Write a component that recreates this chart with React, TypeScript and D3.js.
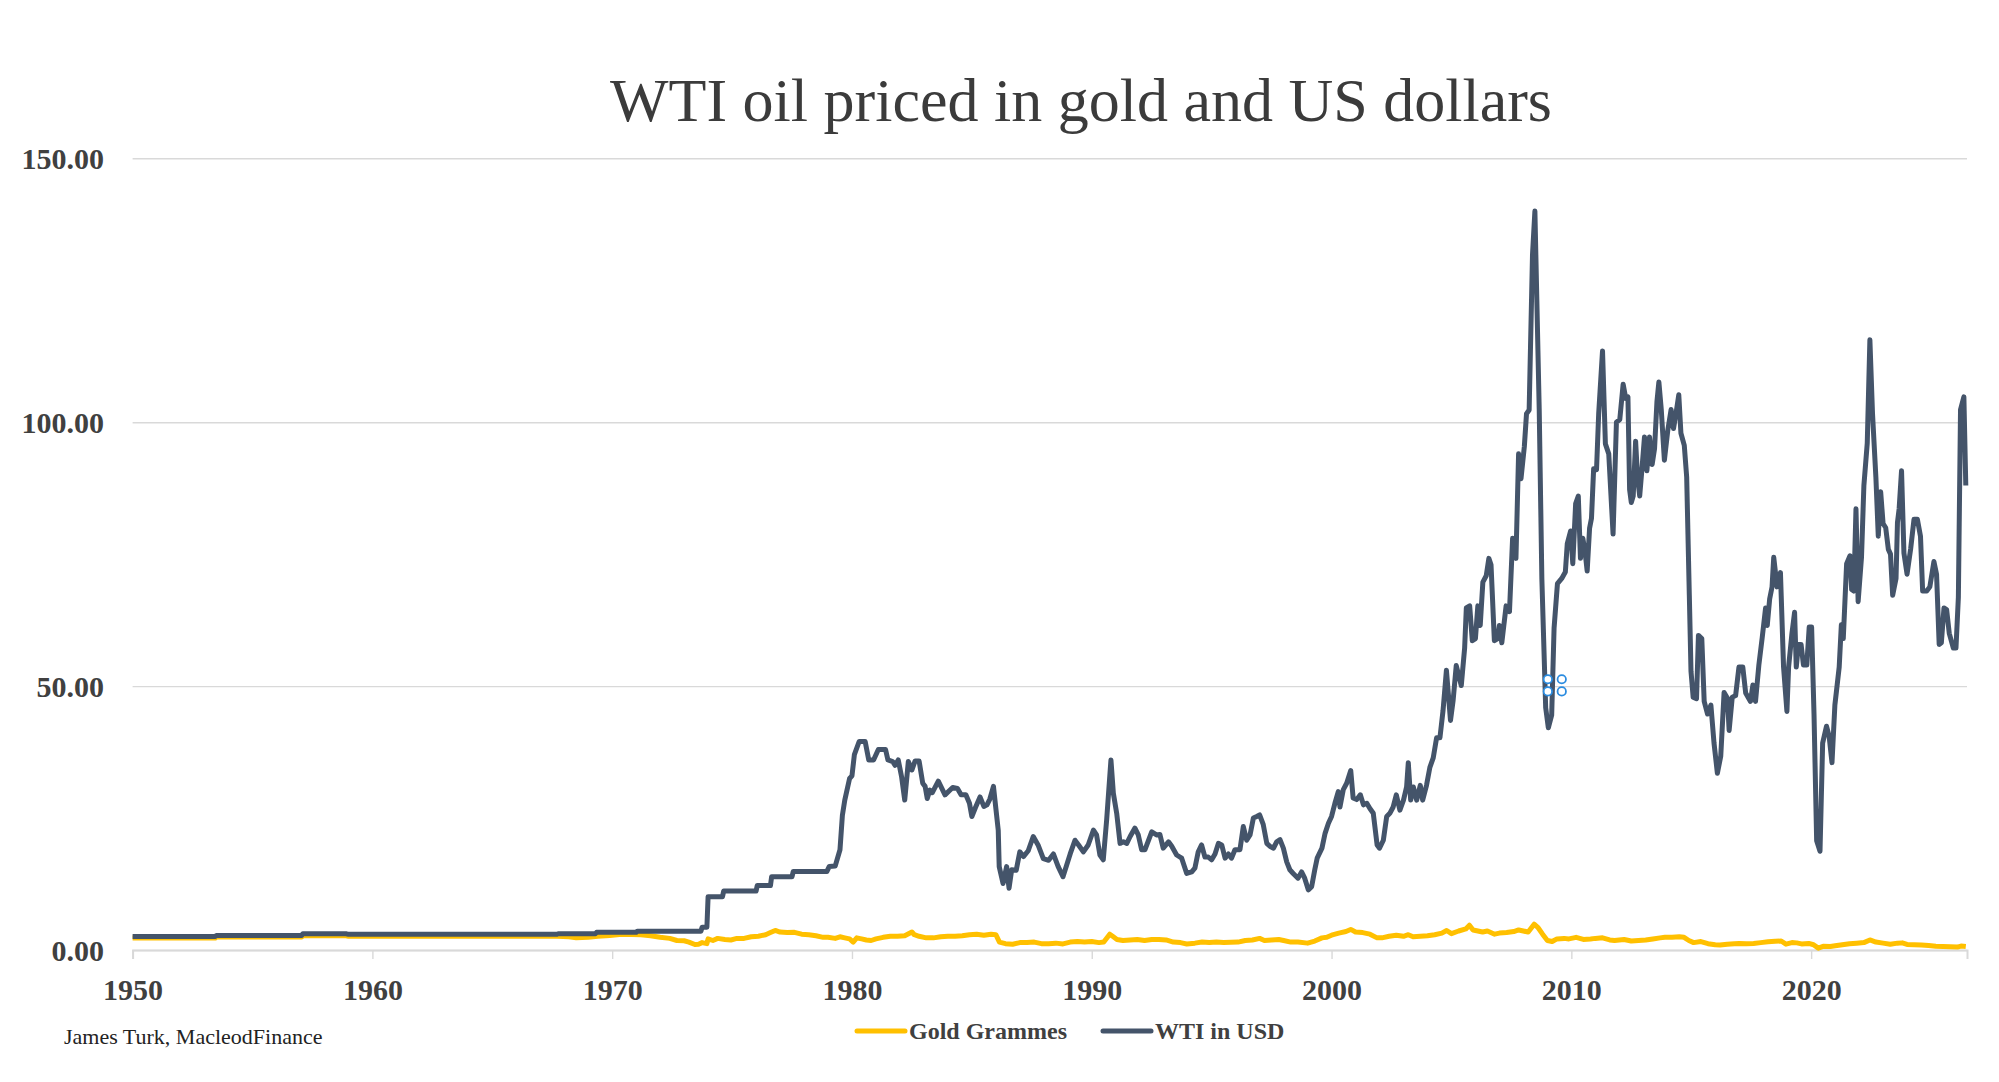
import React, { useRef, useEffect } from "react";
import * as d3 from "d3";

// x axis decades and y axis ticks
const decades = [1950, 1960, 1970, 1980, 1990, 2000, 2010, 2020];
const yTicks = [0, 50, 100, 150];

// WTI crude, US dollars per barrel: [year, price]
const wtiUsd: [number, number][] = [
  [1950.0, 2.57], [1953.45, 2.57], [1953.5, 2.77], [1957.05, 2.77], [1957.1, 3.07],
  [1958.9, 3.07], [1959.0, 2.97], [1967.7, 2.97], [1967.75, 3.07], [1969.3, 3.07],
  [1969.35, 3.35], [1971.0, 3.35], [1971.05, 3.56], [1973.7, 3.56], [1973.75, 4.31],
  [1973.95, 4.31], [1974.0, 10.11], [1974.6, 10.11], [1974.65, 11.16], [1976.0, 11.16],
  [1976.05, 12.2], [1976.6, 12.2], [1976.65, 13.9], [1977.5, 13.9], [1977.55, 14.85],
  [1978.95, 14.85], [1979.05, 15.8], [1979.3, 15.9], [1979.5, 19.0], [1979.6, 25.5],
  [1979.7, 28.4], [1979.9, 32.5], [1980.0, 33.0], [1980.1, 37.0], [1980.3, 39.5],
  [1980.55, 39.5], [1980.7, 36.0], [1980.9, 36.0], [1981.1, 38.0], [1981.4, 38.0],
  [1981.5, 36.0], [1981.7, 35.7], [1981.8, 35.0], [1981.93, 36.0], [1982.07, 32.8],
  [1982.2, 28.4], [1982.35, 35.7], [1982.5, 34.1], [1982.63, 35.8], [1982.8, 35.8],
  [1982.95, 31.6], [1983.05, 31.0], [1983.14, 28.7], [1983.25, 30.3], [1983.35, 29.8],
  [1983.6, 32.0], [1983.88, 29.4], [1984.2, 30.8], [1984.4, 30.6], [1984.55, 29.4],
  [1984.75, 29.4], [1984.9, 27.8], [1985.0, 25.3], [1985.15, 27.0], [1985.34, 29.0],
  [1985.5, 27.2], [1985.63, 27.5], [1985.75, 28.6], [1985.9, 31.0], [1986.1, 22.7],
  [1986.14, 15.8], [1986.3, 12.6], [1986.45, 15.8], [1986.55, 11.7], [1986.66, 15.2],
  [1986.85, 15.1], [1987.0, 18.6], [1987.15, 17.7], [1987.35, 18.8], [1987.56, 21.5],
  [1987.76, 19.9], [1987.98, 17.3], [1988.2, 17.0], [1988.4, 18.2], [1988.6, 15.8],
  [1988.8, 13.9], [1989.1, 18.2], [1989.3, 20.8], [1989.45, 19.9], [1989.65, 18.6],
  [1989.85, 19.9], [1990.07, 22.7], [1990.2, 21.8], [1990.34, 18.0], [1990.48, 17.1],
  [1990.62, 24.6], [1990.8, 36.0], [1990.9, 29.7], [1991.04, 25.9], [1991.18, 20.2],
  [1991.32, 20.5], [1991.46, 20.2], [1991.6, 21.5], [1991.8, 23.1], [1991.94, 21.8],
  [1992.08, 19.0], [1992.22, 19.0], [1992.5, 22.4], [1992.7, 21.8], [1992.84, 21.9],
  [1992.98, 19.3], [1993.2, 20.5], [1993.33, 19.7], [1993.54, 18.0], [1993.75, 17.4],
  [1993.96, 14.5], [1994.17, 14.8], [1994.3, 15.5], [1994.44, 18.6], [1994.58, 19.9],
  [1994.72, 17.6], [1994.86, 17.6], [1995.0, 17.1], [1995.14, 18.2], [1995.28, 20.2],
  [1995.42, 19.9], [1995.56, 17.4], [1995.7, 18.2], [1995.83, 17.4], [1995.97, 19.0],
  [1996.18, 19.0], [1996.32, 23.4], [1996.46, 20.8], [1996.6, 21.8], [1996.74, 25.0],
  [1996.88, 25.3], [1997.0, 25.6], [1997.15, 23.8], [1997.3, 20.2], [1997.44, 19.6],
  [1997.58, 19.3], [1997.71, 20.5], [1997.85, 20.9], [1997.99, 19.3], [1998.13, 16.7],
  [1998.26, 15.2], [1998.4, 14.5], [1998.6, 13.6], [1998.75, 14.8], [1998.88, 13.6],
  [1999.03, 11.4], [1999.17, 12.0], [1999.3, 15.2], [1999.4, 17.4], [1999.6, 19.3],
  [1999.73, 22.1], [1999.87, 24.0], [2000.0, 25.3], [2000.14, 27.8], [2000.28, 30.0],
  [2000.35, 27.1], [2000.49, 30.4], [2000.63, 31.6], [2000.8, 34.0], [2000.9, 28.8],
  [2001.05, 28.5], [2001.2, 29.4], [2001.33, 27.5], [2001.47, 27.8], [2001.6, 26.8],
  [2001.74, 25.9], [2001.9, 19.9], [2002.0, 19.3], [2002.16, 20.8], [2002.3, 25.3],
  [2002.43, 25.9], [2002.57, 27.1], [2002.7, 29.4], [2002.85, 26.5], [2003.0, 28.4],
  [2003.13, 30.9], [2003.2, 35.5], [2003.3, 28.4], [2003.41, 30.9], [2003.55, 28.4],
  [2003.7, 31.2], [2003.8, 28.4], [2003.96, 31.2], [2004.1, 34.6], [2004.24, 36.4],
  [2004.38, 40.2], [2004.52, 40.2], [2004.65, 45.4], [2004.79, 53.0], [2004.96, 43.5],
  [2005.07, 47.3], [2005.2, 53.9], [2005.41, 50.1], [2005.55, 57.2], [2005.62, 64.8],
  [2005.76, 65.2], [2005.87, 58.6], [2006.0, 59.0], [2006.1, 65.2], [2006.2, 61.5],
  [2006.31, 69.7], [2006.45, 70.9], [2006.56, 74.2], [2006.65, 73.0], [2006.79, 58.6],
  [2006.93, 59.0], [2007.0, 61.5], [2007.1, 58.2], [2007.28, 65.2], [2007.42, 64.1],
  [2007.55, 78.0], [2007.69, 74.2], [2007.8, 94.0], [2007.9, 89.3], [2008.04, 95.4],
  [2008.13, 101.6], [2008.24, 102.3], [2008.38, 131.7], [2008.48, 140.0], [2008.56, 123.3],
  [2008.66, 102.5], [2008.77, 70.4], [2008.93, 45.9], [2009.04, 42.1], [2009.18, 44.5],
  [2009.28, 61.0], [2009.42, 69.4], [2009.6, 70.4], [2009.75, 71.6], [2009.83, 77.0],
  [2009.97, 79.4], [2010.06, 73.2], [2010.18, 84.6], [2010.29, 86.0], [2010.38, 74.2],
  [2010.48, 78.0], [2010.57, 75.5], [2010.66, 71.8], [2010.76, 79.9], [2010.84, 81.8],
  [2010.93, 91.2], [2011.05, 91.0], [2011.14, 101.6], [2011.3, 113.5], [2011.42, 95.9],
  [2011.56, 94.0], [2011.74, 78.8], [2011.88, 100.0], [2012.02, 100.5], [2012.16, 107.2],
  [2012.27, 104.5], [2012.36, 104.8], [2012.43, 87.2], [2012.5, 84.8], [2012.58, 86.0],
  [2012.68, 96.4], [2012.76, 89.6], [2012.85, 86.0], [2012.96, 92.0], [2013.05, 97.2],
  [2013.15, 90.8], [2013.26, 97.2], [2013.37, 92.0], [2013.47, 95.0], [2013.57, 103.9],
  [2013.65, 107.6], [2013.75, 102.4], [2013.88, 92.8], [2014.02, 98.4], [2014.16, 102.4],
  [2014.26, 98.8], [2014.37, 101.8], [2014.48, 105.2], [2014.57, 97.9], [2014.71, 95.6],
  [2014.81, 89.6], [2014.92, 67.2], [2014.99, 52.8], [2015.08, 47.9], [2015.22, 47.6],
  [2015.3, 59.6], [2015.44, 59.0], [2015.54, 47.1], [2015.68, 44.7], [2015.82, 46.4],
  [2015.95, 39.2], [2016.09, 33.5], [2016.23, 36.7], [2016.37, 48.8], [2016.51, 47.7],
  [2016.58, 41.6], [2016.71, 47.9], [2016.85, 48.2], [2016.99, 53.6], [2017.15, 53.6],
  [2017.27, 48.7], [2017.47, 47.1], [2017.57, 50.2], [2017.68, 47.1], [2017.82, 54.0],
  [2017.96, 59.2], [2018.1, 64.8], [2018.17, 61.5], [2018.27, 66.5], [2018.37, 68.8],
  [2018.44, 74.4], [2018.58, 68.8], [2018.72, 71.5], [2018.85, 53.6], [2018.99, 45.2],
  [2019.06, 53.6], [2019.2, 60.0], [2019.31, 64.0], [2019.38, 53.6], [2019.47, 57.9],
  [2019.58, 57.9], [2019.68, 54.0], [2019.82, 54.0], [2019.92, 61.2], [2020.02, 61.2],
  [2020.12, 44.7], [2020.23, 20.7], [2020.37, 18.7], [2020.48, 39.2], [2020.64, 42.4],
  [2020.75, 40.5], [2020.87, 35.5], [2020.99, 46.4], [2021.17, 53.6], [2021.26, 61.6],
  [2021.34, 59.0], [2021.48, 73.2], [2021.62, 74.7], [2021.69, 68.3], [2021.78, 68.0],
  [2021.87, 83.6], [2021.96, 66.0], [2022.1, 74.4], [2022.2, 88.0], [2022.34, 96.0],
  [2022.45, 115.6], [2022.56, 101.6], [2022.7, 89.6], [2022.8, 78.4], [2022.9, 86.8],
  [2023.0, 80.8], [2023.11, 80.0], [2023.22, 75.9], [2023.31, 75.0], [2023.4, 67.2],
  [2023.54, 70.4], [2023.6, 81.0], [2023.67, 83.6], [2023.77, 90.8], [2023.87, 75.2],
  [2024.0, 71.2], [2024.15, 76.0], [2024.29, 81.6], [2024.43, 81.6], [2024.56, 78.4],
  [2024.65, 68.0], [2024.82, 68.0], [2024.95, 68.8], [2025.12, 73.6], [2025.23, 71.2],
  [2025.34, 57.9], [2025.43, 58.2], [2025.54, 64.8], [2025.65, 64.5], [2025.76, 60.0],
  [2025.93, 57.2], [2026.04, 57.2], [2026.14, 66.8], [2026.23, 102.4], [2026.37, 104.8],
  [2026.45, 88.0],
];

// WTI priced in grammes of gold: [year, grammes]
const goldGrammes: [number, number][] = [
  [1950.0, 2.28], [1953.45, 2.28], [1953.5, 2.46], [1957.05, 2.46], [1957.1, 2.7],
  [1958.9, 2.7], [1959.0, 2.62], [1967.7, 2.62], [1968.2, 2.5], [1968.5, 2.3],
  [1969.0, 2.4], [1969.4, 2.6], [1969.9, 2.75], [1970.3, 2.95], [1970.8, 2.95],
  [1971.2, 2.9], [1971.6, 2.7], [1972.0, 2.4], [1972.4, 2.2], [1972.7, 1.8],
  [1973.0, 1.75], [1973.2, 1.5], [1973.45, 1.05], [1973.6, 1.1], [1973.75, 1.4],
  [1973.95, 1.2], [1974.0, 2.1], [1974.2, 1.8], [1974.4, 2.2], [1974.7, 2.0],
  [1974.95, 1.9], [1975.2, 2.2], [1975.5, 2.2], [1975.8, 2.5], [1976.1, 2.6],
  [1976.4, 2.9], [1976.6, 3.3], [1976.8, 3.7], [1977.0, 3.4], [1977.3, 3.3],
  [1977.6, 3.35], [1977.9, 3.0], [1978.2, 2.9], [1978.5, 2.7], [1978.8, 2.4],
  [1979.0, 2.4], [1979.3, 2.2], [1979.5, 2.5], [1979.7, 2.3], [1979.9, 2.1],
  [1980.05, 1.5], [1980.2, 2.3], [1980.4, 2.1], [1980.6, 1.9], [1980.8, 1.8],
  [1981.0, 2.1], [1981.3, 2.4], [1981.6, 2.6], [1981.9, 2.6], [1982.2, 2.7],
  [1982.5, 3.4], [1982.6, 2.9], [1982.8, 2.6], [1983.1, 2.3], [1983.4, 2.3],
  [1983.7, 2.5], [1984.0, 2.6], [1984.3, 2.6], [1984.6, 2.7], [1984.9, 2.9],
  [1985.2, 3.0], [1985.5, 2.8], [1985.8, 3.0], [1986.0, 2.9], [1986.15, 1.5],
  [1986.4, 1.2], [1986.7, 1.1], [1987.0, 1.4], [1987.3, 1.4], [1987.6, 1.5],
  [1987.9, 1.2], [1988.2, 1.2], [1988.5, 1.3], [1988.8, 1.15], [1989.1, 1.5],
  [1989.4, 1.6], [1989.7, 1.5], [1990.0, 1.6], [1990.3, 1.4], [1990.5, 1.5],
  [1990.75, 3.0], [1990.9, 2.5], [1991.05, 2.0], [1991.3, 1.8], [1991.6, 1.9],
  [1991.9, 2.0], [1992.2, 1.8], [1992.5, 2.0], [1992.8, 2.0], [1993.1, 1.9],
  [1993.4, 1.5], [1993.7, 1.4], [1993.96, 1.15], [1994.3, 1.3], [1994.6, 1.5],
  [1994.9, 1.4], [1995.2, 1.5], [1995.5, 1.4], [1995.8, 1.45], [1996.1, 1.5],
  [1996.4, 1.8], [1996.7, 1.9], [1997.0, 2.2], [1997.2, 1.8], [1997.5, 1.9],
  [1997.8, 2.0], [1998.0, 1.8], [1998.3, 1.5], [1998.6, 1.5], [1999.0, 1.3],
  [1999.3, 1.7], [1999.6, 2.3], [1999.8, 2.4], [2000.0, 2.8], [2000.3, 3.2],
  [2000.6, 3.5], [2000.8, 3.9], [2001.0, 3.4], [2001.3, 3.3], [2001.6, 3.0],
  [2001.9, 2.3], [2002.1, 2.3], [2002.4, 2.6], [2002.7, 2.8], [2003.0, 2.6],
  [2003.2, 2.9], [2003.4, 2.5], [2003.7, 2.6], [2004.0, 2.7], [2004.3, 2.9],
  [2004.6, 3.2], [2004.8, 3.7], [2005.0, 3.1], [2005.3, 3.6], [2005.6, 4.0],
  [2005.75, 4.7], [2005.9, 3.8], [2006.1, 3.6], [2006.3, 3.4], [2006.5, 3.6],
  [2006.8, 3.0], [2007.0, 3.2], [2007.3, 3.3], [2007.6, 3.5], [2007.8, 3.8],
  [2008.0, 3.6], [2008.2, 3.4], [2008.45, 4.9], [2008.6, 4.3], [2008.8, 3.0],
  [2009.0, 1.8], [2009.2, 1.6], [2009.4, 2.1], [2009.7, 2.2], [2009.9, 2.1],
  [2010.2, 2.4], [2010.5, 2.0], [2010.8, 2.1], [2011.0, 2.2], [2011.3, 2.3],
  [2011.6, 1.9], [2011.8, 1.8], [2012.0, 1.9], [2012.2, 2.0], [2012.5, 1.7],
  [2012.8, 1.8], [2013.1, 1.9], [2013.4, 2.1], [2013.7, 2.3], [2013.9, 2.4],
  [2014.2, 2.4], [2014.5, 2.5], [2014.7, 2.4], [2014.9, 1.8], [2015.1, 1.4],
  [2015.4, 1.6], [2015.7, 1.2], [2016.0, 1.0], [2016.2, 0.95], [2016.5, 1.1],
  [2016.8, 1.2], [2017.0, 1.25], [2017.3, 1.2], [2017.6, 1.25], [2017.9, 1.4],
  [2018.2, 1.55], [2018.5, 1.65], [2018.75, 1.7], [2018.95, 1.1], [2019.2, 1.4],
  [2019.4, 1.35], [2019.6, 1.15], [2019.9, 1.25], [2020.1, 1.0], [2020.3, 0.35],
  [2020.5, 0.7], [2020.8, 0.65], [2021.0, 0.8], [2021.3, 1.0], [2021.6, 1.2],
  [2021.9, 1.3], [2022.2, 1.4], [2022.45, 1.9], [2022.7, 1.5], [2023.0, 1.3],
  [2023.3, 1.1], [2023.6, 1.3], [2023.8, 1.35], [2024.0, 1.05], [2024.3, 1.0],
  [2024.6, 0.95], [2024.9, 0.85], [2025.2, 0.7], [2025.5, 0.65], [2025.8, 0.6],
  [2026.1, 0.55], [2026.25, 0.75], [2026.45, 0.65],
];

const W = 1999;
const H = 1082;
const FONT = "'Liberation Serif', 'Times New Roman', serif";
const TEXT = "#404040";
const GRID = "#d9d9d9";
const GOLD = "#FFC000";
const NAVY = "#44546A";

const OilGoldChart = () => {
  const svgRef = useRef<SVGSVGElement | null>(null);

  useEffect(() => {
    const svg = d3.select(svgRef.current);
    svg.selectAll("*").remove();

    const left = 132.6;
    const right = 1967;
    const top = 158.3;
    const bottom = 950;

    const x = d3.scaleLinear().domain([1950, 2026.5]).range([left, right]);
    const y = d3.scaleLinear().domain([0, 150]).range([bottom, top]);

    svg.append("rect").attr("width", W).attr("height", H).attr("fill", "#fff");

    // title
    svg
      .append("text")
      .attr("x", 1081)
      .attr("y", 121)
      .attr("text-anchor", "middle")
      .style("font-family", FONT)
      .style("font-size", "62px")
      .style("fill", "#3b3b3b")
      .text("WTI oil priced in gold and US dollars");

    // horizontal gridlines + value labels
    const yAxis = svg
      .append("g")
      .attr("transform", `translate(${left},0)`)
      .call(
        d3
          .axisLeft(y)
          .tickValues(yTicks)
          .tickFormat(d3.format(".2f"))
          .tickSize(-(right - left))
      );
    yAxis.select(".domain").remove();
    yAxis.selectAll(".tick line").attr("stroke", GRID).attr("stroke-width", 1.4);
    yAxis
      .selectAll(".tick text")
      .attr("x", 104 - left)
      .attr("dy", "0.34em")
      .style("font-family", FONT)
      .style("font-size", "30px")
      .style("font-weight", "bold")
      .style("fill", TEXT);

    // year axis
    const xAxis = svg
      .append("g")
      .attr("transform", `translate(0,${bottom})`)
      .call(
        d3
          .axisBottom(x)
          .tickValues(decades)
          .tickFormat(d3.format("d"))
          .tickSize(9)
      );
    xAxis.select(".domain").attr("stroke", GRID).attr("stroke-width", 2);
    xAxis.selectAll(".tick line").attr("stroke", GRID).attr("stroke-width", 1.4);
    xAxis
      .selectAll(".tick text")
      .attr("y", 50)
      .attr("dy", 0)
      .style("font-family", FONT)
      .style("font-size", "30px")
      .style("font-weight", "bold")
      .style("fill", TEXT);

    const line = d3
      .line<[number, number]>()
      .x((d) => x(d[0]))
      .y((d) => y(d[1]));

    svg
      .append("path")
      .datum(goldGrammes)
      .attr("d", line)
      .attr("fill", "none")
      .attr("stroke", GOLD)
      .attr("stroke-width", 5)
      .attr("stroke-linejoin", "round");

    svg
      .append("path")
      .datum(wtiUsd)
      .attr("d", line)
      .attr("fill", "none")
      .attr("stroke", NAVY)
      .attr("stroke-width", 5)
      .attr("stroke-linejoin", "round");

    // selection handles on the 2009 trough
    const handles = [
      [2009.02, 51.3], [2009.6, 51.3], [2009.02, 49.0], [2009.6, 49.0],
    ];
    svg
      .selectAll(".handle")
      .data(handles)
      .enter()
      .append("circle")
      .attr("cx", (d) => x(d[0]))
      .attr("cy", (d) => y(d[1]))
      .attr("r", 4.2)
      .attr("fill", "#fff")
      .attr("stroke", "#2b8ce0")
      .attr("stroke-width", 1.8);

    // legend
    const legend = [
      { label: "Gold Grammes", color: GOLD, x0: 857 },
      { label: "WTI in USD", color: NAVY, x0: 1103 },
    ];
    const lg = svg.append("g").attr("transform", "translate(0,1031)");
    legend.forEach((item) => {
      lg.append("line")
        .attr("x1", item.x0)
        .attr("x2", item.x0 + 48)
        .attr("stroke", item.color)
        .attr("stroke-width", 5)
        .attr("stroke-linecap", "round");
      lg.append("text")
        .attr("x", item.x0 + 52)
        .attr("dy", "0.34em")
        .style("font-family", FONT)
        .style("font-size", "24px")
        .style("font-weight", "bold")
        .style("fill", TEXT)
        .text(item.label);
    });

    // source note
    svg
      .append("text")
      .attr("x", 64)
      .attr("y", 1044)
      .style("font-family", FONT)
      .style("font-size", "22px")
      .style("fill", "#222")
      .text("James Turk, MacleodFinance");
  }, []);

  return (
    <svg
      ref={svgRef}
      width={W}
      height={H}
      style={{ position: "absolute", left: 0, top: 0, display: "block" }}
    />
  );
};

export default function App() {
  return <OilGoldChart />;
}
